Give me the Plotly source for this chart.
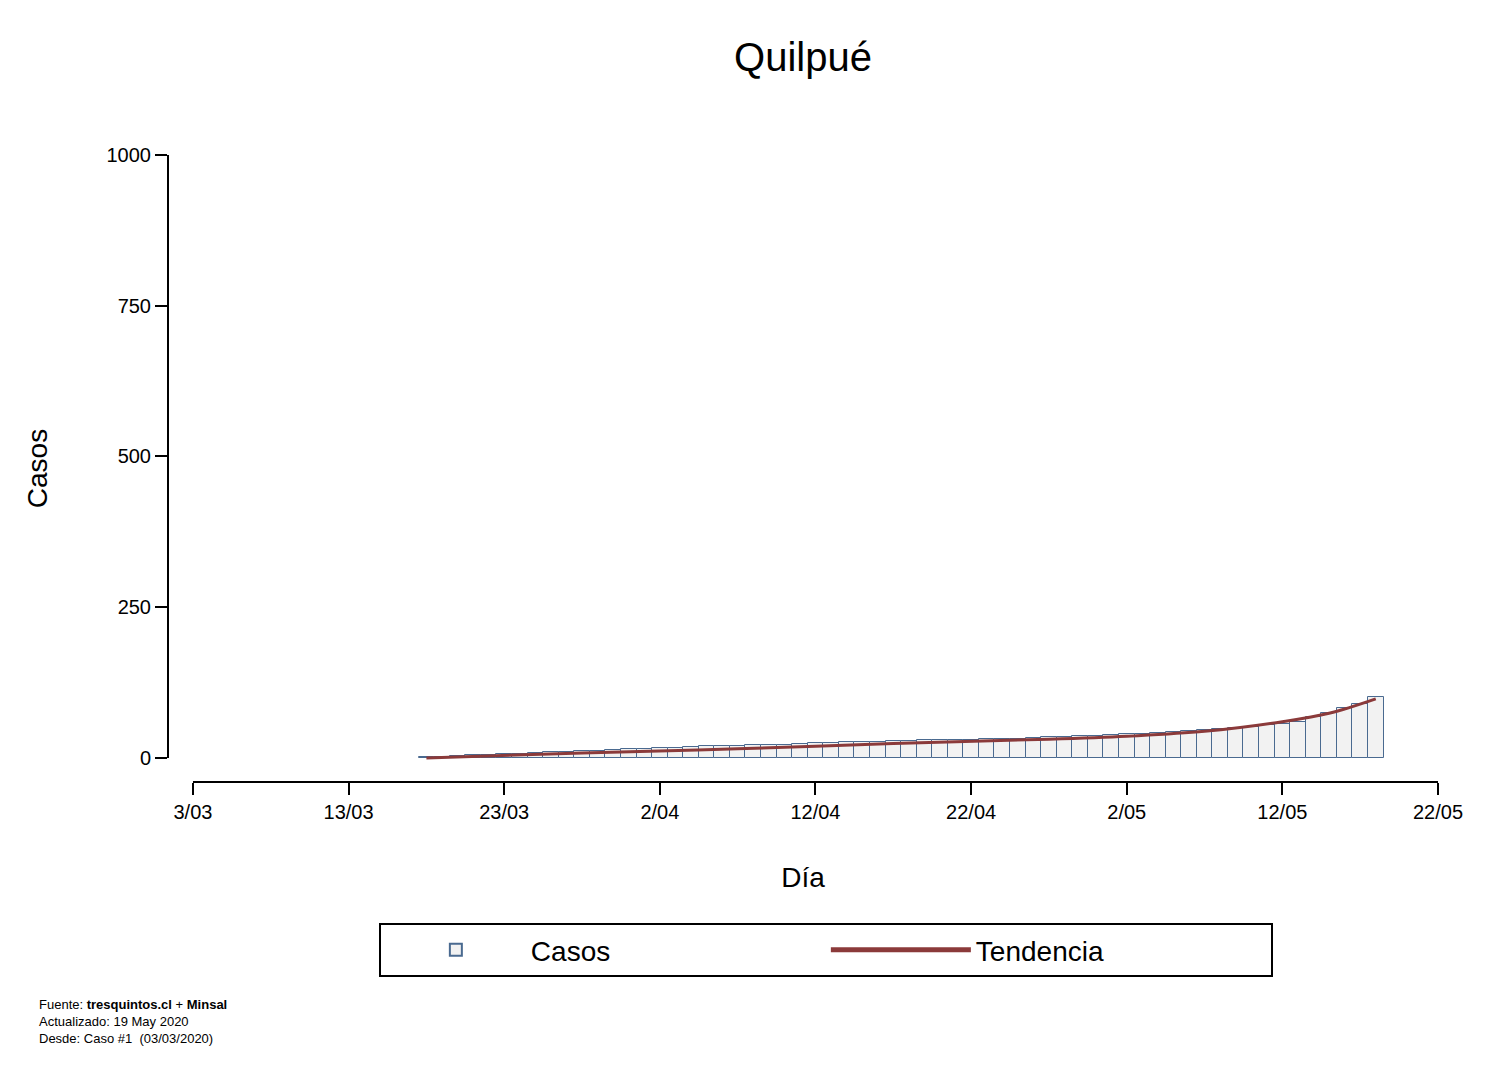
import pandas as pd
import plotly.graph_objects as go

start = pd.Timestamp("2020-03-18")
casos = [1, 2, 3, 4, 5, 6, 7, 8, 9, 10, 11, 12, 13, 14, 15, 16, 17, 18, 19,
         19, 20, 21, 22, 22, 23, 24, 25, 26, 26, 27, 28, 28, 29, 29, 30, 30, 31, 31,
         32, 33, 34, 35, 36, 37, 38, 39, 40, 41,
         43, 44, 46, 48, 50, 52, 55, 56, 60, 67, 74, 82, 90, 101]
dias = pd.date_range(start, periods=len(casos), freq="D")

trend_dates = pd.to_datetime(["2020-03-18", "2020-03-28", "2020-04-07", "2020-04-17",
                              "2020-04-27", "2020-05-02", "2020-05-07", "2020-05-12",
                              "2020-05-15", "2020-05-18"])
trend_vals = [0, 8, 15, 24, 31, 36, 44, 60, 74, 98]

tick_dates = pd.date_range("2020-03-03", "2020-05-22", freq="10D")
tick_text = [f"{d.day}/{d.month:02d}" for d in tick_dates]

fig = go.Figure()
fig.add_bar(x=dias, y=casos, name="Casos",
            marker=dict(color="#f2f2f2", line=dict(color="#4a6a90", width=1)))
fig.add_scatter(x=trend_dates, y=trend_vals, name="Tendencia", mode="lines",
                line=dict(color="#8b3a3a", width=3, shape="spline"))

font = "Liberation Sans, Arial, sans-serif"
fig.update_layout(
    width=1488, height=1082, plot_bgcolor="white", paper_bgcolor="white",
    margin=dict(l=160, r=58, t=147, b=308),
    bargap=0,
    font=dict(family=font, color="black", size=20),
    title=dict(text="Quilpué", x=0.5, xref="paper", y=0.955, yanchor="middle",
               font=dict(size=40)),
    xaxis=dict(range=[pd.Timestamp("2020-03-03") - pd.Timedelta(hours=38.5),
                      pd.Timestamp("2020-05-22")],
               tickvals=tick_dates, ticktext=tick_text, ticks="outside", ticklen=12,
               tickcolor="black", tickwidth=2, showgrid=False, zeroline=False,
               showline=False, tickfont=dict(size=20),
               title=dict(text="Día", font=dict(size=28), standoff=45)),
    yaxis=dict(range=[-40, 1000], tickvals=[0, 250, 500, 750, 1000], ticks="outside",
               ticklen=12, tickcolor="black", tickwidth=2, showgrid=False,
               zeroline=False, showline=False, tickfont=dict(size=20),
               title=dict(text="Casos", font=dict(size=28), standoff=50)),
    legend=dict(orientation="h", x=0.518, xanchor="center", y=-0.225, yanchor="top",
                bordercolor="black", borderwidth=2, font=dict(size=28),
                itemwidth=140, entrywidthmode="pixels", entrywidth=290,
                itemsizing="constant"),
    shapes=[
        dict(type="line", xref="paper", yref="y", x0=0, x1=0, y0=0, y1=1000,
             line=dict(color="black", width=2)),
        dict(type="line", xref="x", yref="paper", x0=tick_dates[0], x1=tick_dates[-1],
             y0=0, y1=0, line=dict(color="black", width=2)),
    ],
    annotations=[dict(
        text="Fuente: <b>tresquintos.cl</b> + <b>Minsal</b><br>Actualizado: 19 May 2020"
             "<br>Desde: Caso #1  (03/03/2020)",
        xref="paper", yref="paper", x=-0.103, y=-0.34, xanchor="left", yanchor="top",
        align="left", showarrow=False, font=dict(size=13))],
)

fig.write_html("out.html")
